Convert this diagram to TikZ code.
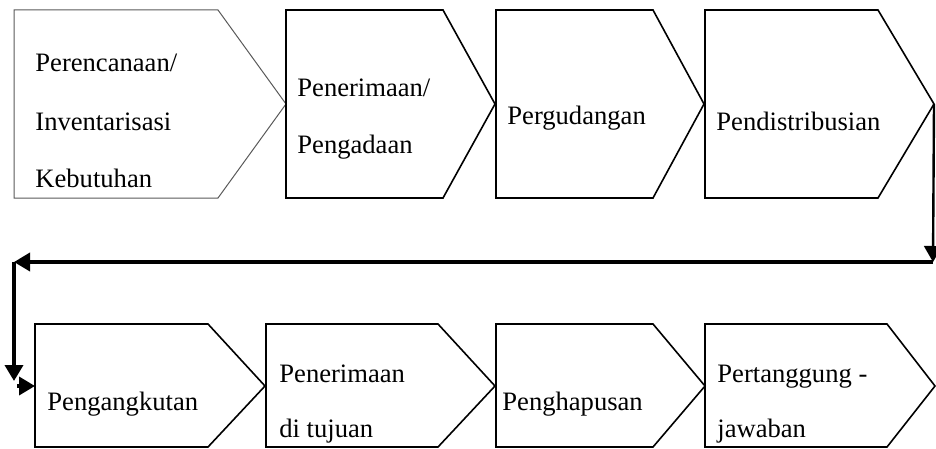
\documentclass[tikz,border=0pt]{standalone}
\usepackage{fontspec}
\setmainfont{Liberation Serif}
\usetikzlibrary{arrows.meta}

\begin{document}
\begin{tikzpicture}[x=0.5pt,y=-0.5pt,
	box/.style={line width=0.8pt},
	lbl/.style={anchor=base west,inner sep=0pt,font=\fontsize{13.3}{16}\selectfont},
	flow/.style={line width=1.8pt,-{Triangle[length=8pt,width=9pt]}}]
	\useasboundingbox (0,0) rectangle (936,449);
	
	%TOP ROW
	\draw[line width=0.5pt,gray!70!black] (14,10)--(218,10)--(286,104)--(218,198)--(14,198)--cycle;
	\coordinate (plan) at (286,104);
	\foreach \l/\r/\t/\n in {286/443/495/terima,496/653/704/gudang,705/878/934/distri}{
		\draw[box] (\l,10)--(\r,10)--(\t,104)--(\r,198)--(\l,198)--cycle;
		\coordinate (\n) at (\t,104);
	}
	
	%BOTTOM ROW
	\foreach \l/\r/\t/\n in {35/208/265/angkut,266/438/495/tujuan,496/653/705/hapus,705/887/935/jawab}{
		\draw[box] (\l,324)--(\r,324)--(\t,386)--(\r,447)--(\l,447)--cycle;
		\coordinate (\n-w) at (\l,386);
	}
	
	%TEXTS
	\node[lbl] (t1a) at (35,72) {Perencanaan/};
	\node[lbl] (t1b) at (35,130) {Inventarisasi};
	\node[lbl] (t1c) at (35,187) {Kebutuhan};
	\node[lbl] (t2a) at (297,97) {Penerimaan/};
	\node[lbl] (t2b) at (297,153) {Pengadaan};
	\node[lbl] (t3) at (507,125) {Pergudangan};
	\node[lbl] (t4) at (716,130) {Pendistribusian};
	\node[lbl] (t5) at (47,410) {Pengangkutan};
	\node[lbl] (t6a) at (279,382) {Penerimaan};
	\node[lbl] (t6b) at (279,437) {di tujuan};
	\node[lbl] (t7) at (502,410) {Penghapusan};
	\node[lbl] (t8a) at (717,382) {Pertanggung -};
	\node[lbl] (t8b) at (717,437) {jawaban};
	
	%RETURN LINE
	\coordinate (turnR) at (933,262);
	\coordinate (turnL) at (14,262);
	\coordinate (drop) at (14,381);
	\coordinate (stub) at (17,386);
	\draw[flow,line width=1.2pt] (distri)--(turnR);
	\draw[flow] (turnR)--(turnL);
	\draw[flow] (turnL)--(drop);
	\draw[flow] (stub)--(angkut-w);
\end{tikzpicture}
\end{document}
